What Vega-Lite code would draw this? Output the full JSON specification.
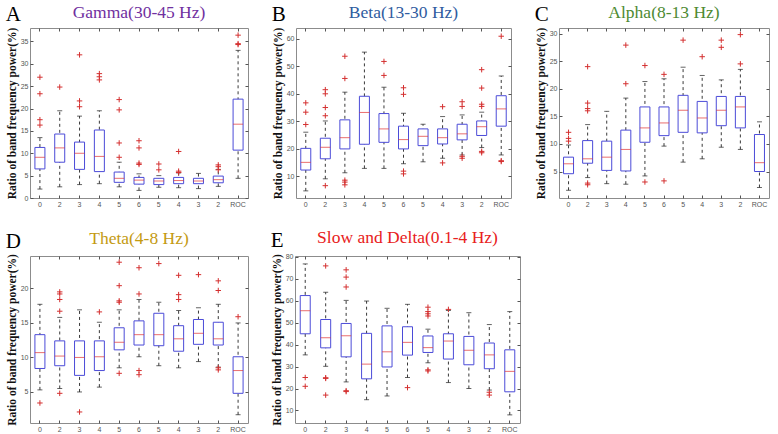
{
  "$schema": "https://vega.github.io/schema/vega-lite/v6.json",
  "padding": {"left": 5, "top": 3, "right": 0, "bottom": 0},
  "background": "white",
  "config": {
    "view": {"stroke": "#8c8c8c", "strokeWidth": 1},
    "axis": {
      "labelFont": "Liberation Sans", "labelFontSize": 7, "labelColor": "#555555",
      "tickColor": "#555555", "tickSize": -3, "labelPadding": 5,
      "domain": false, "grid": false,
      "titleFont": "Liberation Serif", "titleFontWeight": "bold", "titleFontSize": 11.5, "titleColor": "#111111", "titlePadding": 3
    },
    "title": {"font": "Liberation Serif", "fontWeight": "normal"}
  },
  "datasets": {
    "box": [
      {"p":"A","pos":0,"lo":2.0,"q1":6.5,"med":9.1,"q3":11.3,"hi":13.5},
      {"p":"A","pos":1,"lo":2.5,"q1":8.0,"med":11.2,"q3":14.3,"hi":19.5},
      {"p":"A","pos":2,"lo":3.0,"q1":6.4,"med":10.0,"q3":12.5,"hi":18.3},
      {"p":"A","pos":3,"lo":3.2,"q1":5.9,"med":9.3,"q3":15.2,"hi":19.5},
      {"p":"A","pos":4,"lo":2.5,"q1":3.5,"med":4.4,"q3":5.8,"hi":8.0},
      {"p":"A","pos":5,"lo":1.7,"q1":3.1,"med":4.0,"q3":4.6,"hi":5.4},
      {"p":"A","pos":6,"lo":2.4,"q1":3.0,"med":3.8,"q3":4.4,"hi":5.0},
      {"p":"A","pos":7,"lo":2.3,"q1":3.2,"med":3.9,"q3":4.6,"hi":5.6},
      {"p":"A","pos":8,"lo":2.1,"q1":3.2,"med":3.8,"q3":4.4,"hi":5.5},
      {"p":"A","pos":9,"lo":2.6,"q1":3.4,"med":4.1,"q3":4.9,"hi":6.4},
      {"p":"A","pos":10,"lo":4.4,"q1":10.7,"med":16.5,"q3":22.1,"hi":33.0},
      {"p":"B","pos":0,"lo":4.6,"q1":12.2,"med":15.0,"q3":20.1,"hi":26.0},
      {"p":"B","pos":1,"lo":9.0,"q1":16.3,"med":20.5,"q3":23.8,"hi":30.1},
      {"p":"B","pos":2,"lo":11.2,"q1":19.9,"med":24.0,"q3":30.5,"hi":40.6},
      {"p":"B","pos":3,"lo":12.8,"q1":21.6,"med":33.2,"q3":39.1,"hi":55.2},
      {"p":"B","pos":4,"lo":12.8,"q1":22.3,"med":27.2,"q3":32.8,"hi":42.4},
      {"p":"B","pos":5,"lo":14.5,"q1":19.9,"med":23.3,"q3":28.2,"hi":32.9},
      {"p":"B","pos":6,"lo":15.2,"q1":21.1,"med":24.5,"q3":27.2,"hi":28.9},
      {"p":"B","pos":7,"lo":16.5,"q1":21.7,"med":24.0,"q3":27.2,"hi":31.7},
      {"p":"B","pos":8,"lo":17.7,"q1":23.2,"med":25.4,"q3":28.9,"hi":32.3},
      {"p":"B","pos":9,"lo":20.4,"q1":24.8,"med":28.0,"q3":30.1,"hi":33.3},
      {"p":"B","pos":10,"lo":17.7,"q1":28.2,"med":34.5,"q3":39.3,"hi":46.5},
      {"p":"C","pos":0,"lo":1.6,"q1":4.6,"med":6.4,"q3":7.6,"hi":9.8},
      {"p":"C","pos":1,"lo":3.9,"q1":6.5,"med":7.3,"q3":10.6,"hi":13.5},
      {"p":"C","pos":2,"lo":2.8,"q1":5.2,"med":7.6,"q3":10.5,"hi":15.9},
      {"p":"C","pos":3,"lo":2.7,"q1":5.1,"med":9.0,"q3":12.5,"hi":18.3},
      {"p":"C","pos":4,"lo":4.2,"q1":10.3,"med":12.9,"q3":16.7,"hi":21.3},
      {"p":"C","pos":5,"lo":9.6,"q1":11.5,"med":13.8,"q3":16.7,"hi":21.8},
      {"p":"C","pos":6,"lo":6.7,"q1":12.1,"med":16.1,"q3":18.8,"hi":23.9},
      {"p":"C","pos":7,"lo":7.3,"q1":12.0,"med":14.7,"q3":17.7,"hi":22.4},
      {"p":"C","pos":8,"lo":9.4,"q1":13.3,"med":16.1,"q3":18.6,"hi":21.6},
      {"p":"C","pos":9,"lo":9.0,"q1":12.9,"med":16.7,"q3":18.6,"hi":23.5},
      {"p":"C","pos":10,"lo":2.1,"q1":5.0,"med":6.6,"q3":11.7,"hi":14.0},
      {"p":"D","pos":0,"lo":5.3,"q1":8.4,"med":10.7,"q3":13.3,"hi":17.7},
      {"p":"D","pos":1,"lo":5.5,"q1":8.8,"med":10.2,"q3":12.4,"hi":15.8},
      {"p":"D","pos":2,"lo":5.0,"q1":7.4,"med":10.0,"q3":12.4,"hi":16.9},
      {"p":"D","pos":3,"lo":5.7,"q1":8.1,"med":10.1,"q3":12.4,"hi":15.1},
      {"p":"D","pos":4,"lo":8.5,"q1":11.1,"med":12.2,"q3":14.3,"hi":16.9},
      {"p":"D","pos":5,"lo":10.1,"q1":11.8,"med":13.3,"q3":15.3,"hi":18.4},
      {"p":"D","pos":6,"lo":8.8,"q1":11.7,"med":13.3,"q3":16.4,"hi":18.0},
      {"p":"D","pos":7,"lo":8.5,"q1":10.9,"med":12.7,"q3":14.6,"hi":16.8},
      {"p":"D","pos":8,"lo":9.4,"q1":11.9,"med":13.5,"q3":15.5,"hi":17.2},
      {"p":"D","pos":9,"lo":8.6,"q1":11.8,"med":12.7,"q3":15.1,"hi":17.7},
      {"p":"D","pos":10,"lo":1.7,"q1":4.8,"med":8.1,"q3":10.1,"hi":15.0},
      {"p":"E","pos":0,"lo":35.3,"q1":44.9,"med":55.4,"q3":62.3,"hi":76.7},
      {"p":"E","pos":1,"lo":30.1,"q1":38.5,"med":43.1,"q3":51.4,"hi":63.8},
      {"p":"E","pos":2,"lo":23.0,"q1":34.4,"med":44.0,"q3":49.6,"hi":60.1},
      {"p":"E","pos":3,"lo":14.9,"q1":24.4,"med":31.1,"q3":45.1,"hi":59.8},
      {"p":"E","pos":4,"lo":16.6,"q1":29.8,"med":36.7,"q3":48.5,"hi":56.5},
      {"p":"E","pos":5,"lo":25.0,"q1":35.2,"med":41.0,"q3":48.1,"hi":58.3},
      {"p":"E","pos":6,"lo":31.7,"q1":36.4,"med":38.6,"q3":43.9,"hi":47.0},
      {"p":"E","pos":7,"lo":22.7,"q1":33.4,"med":41.6,"q3":44.9,"hi":55.5},
      {"p":"E","pos":8,"lo":20.0,"q1":30.8,"med":37.4,"q3":43.7,"hi":54.5},
      {"p":"E","pos":9,"lo":19.3,"q1":29.0,"med":35.3,"q3":40.7,"hi":49.1},
      {"p":"E","pos":10,"lo":8.0,"q1":18.5,"med":27.8,"q3":37.6,"hi":55.0}
    ],
    "out": [
      {"p":"A","pos":0,"v":27.0},{"p":"A","pos":0,"v":23.3},{"p":"A","pos":0,"v":17.5},{"p":"A","pos":0,"v":16.3},
      {"p":"A","pos":1,"v":24.8},
      {"p":"A","pos":2,"v":32.0},{"p":"A","pos":2,"v":21.7},{"p":"A","pos":2,"v":20.4},
      {"p":"A","pos":3,"v":27.8},{"p":"A","pos":3,"v":27.1},{"p":"A","pos":3,"v":26.4},
      {"p":"A","pos":4,"v":22.0},{"p":"A","pos":4,"v":19.7},{"p":"A","pos":4,"v":12.3},{"p":"A","pos":4,"v":9.1},
      {"p":"A","pos":5,"v":12.8},{"p":"A","pos":5,"v":11.2},{"p":"A","pos":5,"v":7.8},{"p":"A","pos":5,"v":7.5},
      {"p":"A","pos":6,"v":7.6},{"p":"A","pos":6,"v":6.3},
      {"p":"A","pos":7,"v":10.4},{"p":"A","pos":7,"v":6.0},{"p":"A","pos":7,"v":5.7},
      {"p":"A","pos":9,"v":7.4},{"p":"A","pos":9,"v":7.0},{"p":"A","pos":9,"v":6.3},
      {"p":"A","pos":10,"v":36.4},{"p":"A","pos":10,"v":34.5},{"p":"A","pos":10,"v":34.3},
      {"p":"B","pos":0,"v":36.7},{"p":"B","pos":0,"v":33.3},{"p":"B","pos":0,"v":28.8},
      {"p":"B","pos":1,"v":41.5},{"p":"B","pos":1,"v":40.0},{"p":"B","pos":1,"v":35.0},{"p":"B","pos":1,"v":32.0},{"p":"B","pos":1,"v":6.5},
      {"p":"B","pos":2,"v":53.7},{"p":"B","pos":2,"v":45.6},{"p":"B","pos":2,"v":8.5},{"p":"B","pos":2,"v":7.8},{"p":"B","pos":2,"v":6.8},
      {"p":"B","pos":4,"v":51.8},{"p":"B","pos":4,"v":46.7},
      {"p":"B","pos":5,"v":42.2},{"p":"B","pos":5,"v":39.8},{"p":"B","pos":5,"v":11.8},{"p":"B","pos":5,"v":10.8},
      {"p":"B","pos":7,"v":35.3},{"p":"B","pos":7,"v":14.8},
      {"p":"B","pos":8,"v":37.1},{"p":"B","pos":8,"v":35.4},{"p":"B","pos":8,"v":17.2},{"p":"B","pos":8,"v":16.5},
      {"p":"B","pos":9,"v":48.8},{"p":"B","pos":9,"v":42.1},{"p":"B","pos":9,"v":36.2},{"p":"B","pos":9,"v":35.4},{"p":"B","pos":9,"v":19.0},{"p":"B","pos":9,"v":18.5},
      {"p":"B","pos":10,"v":61.0},{"p":"B","pos":10,"v":15.6},{"p":"B","pos":10,"v":15.3},
      {"p":"C","pos":0,"v":12.1},{"p":"C","pos":0,"v":11.0},{"p":"C","pos":0,"v":10.5},
      {"p":"C","pos":1,"v":24.0},{"p":"C","pos":1,"v":17.4},{"p":"C","pos":1,"v":16.4},{"p":"C","pos":1,"v":16.0},{"p":"C","pos":1,"v":2.9},{"p":"C","pos":1,"v":2.6},
      {"p":"C","pos":3,"v":27.9},{"p":"C","pos":3,"v":20.9},
      {"p":"C","pos":4,"v":24.2},{"p":"C","pos":4,"v":3.1},
      {"p":"C","pos":5,"v":22.6},{"p":"C","pos":5,"v":3.3},
      {"p":"C","pos":6,"v":28.8},
      {"p":"C","pos":7,"v":25.8},
      {"p":"C","pos":8,"v":28.8},{"p":"C","pos":8,"v":27.5},
      {"p":"C","pos":9,"v":29.8},{"p":"C","pos":9,"v":24.5},
      {"p":"D","pos":0,"v":3.4},
      {"p":"D","pos":1,"v":19.5},{"p":"D","pos":1,"v":19.2},{"p":"D","pos":1,"v":18.4},{"p":"D","pos":1,"v":16.7},{"p":"D","pos":1,"v":4.8},
      {"p":"D","pos":2,"v":2.1},
      {"p":"D","pos":3,"v":16.6},
      {"p":"D","pos":4,"v":23.8},{"p":"D","pos":4,"v":20.4},{"p":"D","pos":4,"v":18.2},{"p":"D","pos":4,"v":18.0},{"p":"D","pos":4,"v":7.7},
      {"p":"D","pos":5,"v":23.0},{"p":"D","pos":5,"v":19.2},{"p":"D","pos":5,"v":8.1},{"p":"D","pos":5,"v":7.5},
      {"p":"D","pos":6,"v":23.6},
      {"p":"D","pos":7,"v":21.9},{"p":"D","pos":7,"v":19.1},{"p":"D","pos":7,"v":18.4},
      {"p":"D","pos":8,"v":22.0},
      {"p":"D","pos":9,"v":21.1},{"p":"D","pos":9,"v":19.7},{"p":"D","pos":9,"v":8.5},{"p":"D","pos":9,"v":8.2},
      {"p":"D","pos":10,"v":15.9},
      {"p":"E","pos":0,"v":25.0},{"p":"E","pos":0,"v":21.0},
      {"p":"E","pos":1,"v":75.8},{"p":"E","pos":1,"v":24.9},{"p":"E","pos":1,"v":24.6},{"p":"E","pos":1,"v":17.0},
      {"p":"E","pos":2,"v":74.0},{"p":"E","pos":2,"v":70.7},{"p":"E","pos":2,"v":66.2},{"p":"E","pos":2,"v":19.0},{"p":"E","pos":2,"v":18.6},
      {"p":"E","pos":5,"v":20.4},
      {"p":"E","pos":6,"v":57.0},{"p":"E","pos":6,"v":55.0},{"p":"E","pos":6,"v":54.0},{"p":"E","pos":6,"v":53.0},{"p":"E","pos":6,"v":28.5},{"p":"E","pos":6,"v":28.0},
      {"p":"E","pos":7,"v":56.0},
      {"p":"E","pos":9,"v":18.3},{"p":"E","pos":9,"v":17.0}
    ]
  },
  "spacing": 20,
  "vconcat": [
    {
      "spacing": 22,
      "hconcat": [
        {
          "title": {"text": "A", "anchor": "start", "frame": "bounds", "fontSize": 21, "color": "#000000", "dy": 22, "offset": 0},
          "vconcat": [{
            "title": {"text": "Gamma(30-45 Hz)", "color": "#7030a0", "fontSize": 17.5, "anchor": "middle", "offset": 6},
            "width": 218, "height": 170,
            "data": {"name": "box"},
            "transform": [{"filter": "datum.p == 'A'"}],
            "resolve": {"axis": {"x": "independent", "y": "independent"}},
            "layer": [
              {"mark": {"type": "rule", "color": "#222222", "strokeDash": [3, 3], "strokeWidth": 0.9},
               "encoding": {
                 "x": {"field": "pos", "type": "ordinal", "scale": {"paddingInner": 0.5, "paddingOuter": 0.25}, "axis": {"title": null, "labelAngle": 0, "labelExpr": "['0','2','3','4','5','6','5','4','3','2','ROC'][datum.value]"}},
                 "y": {"field": "lo", "type": "quantitative", "scale": {"domain": [0, 38], "nice": false, "zero": false}, "axis": {"title": "Ratio of band frequency power(%)", "values": [0,5,10,15,20,25,30,35]}},
                 "y2": {"field": "hi"}}},
              {"mark": {"type": "bar", "fill": "white", "stroke": "#4b4bd8", "strokeWidth": 1, "size": 10},
               "encoding": {
                 "x": {"field": "pos", "type": "ordinal", "axis": {"orient": "top", "labels": false, "title": null}},
                 "y": {"field": "q1", "type": "quantitative", "axis": {"orient": "right", "labels": false, "title": null, "values": [0,5,10,15,20,25,30,35]}},
                 "y2": {"field": "q3"}}},
              {"mark": {"type": "tick", "color": "#222222", "size": 5, "thickness": 1}, "encoding": {"x": {"field": "pos", "type": "ordinal", "axis": null}, "y": {"field": "lo", "type": "quantitative", "axis": null}}},
              {"mark": {"type": "tick", "color": "#222222", "size": 5, "thickness": 1}, "encoding": {"x": {"field": "pos", "type": "ordinal", "axis": null}, "y": {"field": "hi", "type": "quantitative", "axis": null}}},
              {"mark": {"type": "tick", "color": "#e03030", "size": 10, "thickness": 1}, "encoding": {"x": {"field": "pos", "type": "ordinal", "axis": null}, "y": {"field": "med", "type": "quantitative", "axis": null}}},
              {"data": {"name": "out"}, "transform": [{"filter": "datum.p == 'A'"}],
               "mark": {"type": "point", "shape": "M-1,0H1M0,-1V1", "filled": false, "stroke": "#d43030", "strokeWidth": 1, "size": 30, "opacity": 1},
               "encoding": {"x": {"field": "pos", "type": "ordinal", "axis": null}, "y": {"field": "v", "type": "quantitative", "axis": null}}}
            ]
          }]
        },
        {
          "title": {"text": "B", "anchor": "start", "frame": "bounds", "fontSize": 21, "color": "#000000", "dy": 22, "offset": 0},
          "vconcat": [{
            "title": {"text": "Beta(13-30 Hz)", "color": "#2f5ca0", "fontSize": 17.5, "anchor": "middle", "offset": 6},
            "width": 215, "height": 170,
            "data": {"name": "box"},
            "transform": [{"filter": "datum.p == 'B'"}],
            "resolve": {"axis": {"x": "independent", "y": "independent"}},
            "layer": [
              {"mark": {"type": "rule", "color": "#222222", "strokeDash": [3, 3], "strokeWidth": 0.9},
               "encoding": {
                 "x": {"field": "pos", "type": "ordinal", "scale": {"paddingInner": 0.5, "paddingOuter": 0.25}, "axis": {"title": null, "labelAngle": 0, "labelExpr": "['0','2','3','4','5','6','5','4','3','2','ROC'][datum.value]"}},
                 "y": {"field": "lo", "type": "quantitative", "scale": {"domain": [2, 64], "nice": false, "zero": false}, "axis": {"title": "Ratio of band frequency power(%)", "values": [10,20,30,40,50,60]}},
                 "y2": {"field": "hi"}}},
              {"mark": {"type": "bar", "fill": "white", "stroke": "#4b4bd8", "strokeWidth": 1, "size": 10},
               "encoding": {
                 "x": {"field": "pos", "type": "ordinal", "axis": {"orient": "top", "labels": false, "title": null}},
                 "y": {"field": "q1", "type": "quantitative", "axis": {"orient": "right", "labels": false, "title": null, "values": [10,20,30,40,50,60]}},
                 "y2": {"field": "q3"}}},
              {"mark": {"type": "tick", "color": "#222222", "size": 5, "thickness": 1}, "encoding": {"x": {"field": "pos", "type": "ordinal", "axis": null}, "y": {"field": "lo", "type": "quantitative", "axis": null}}},
              {"mark": {"type": "tick", "color": "#222222", "size": 5, "thickness": 1}, "encoding": {"x": {"field": "pos", "type": "ordinal", "axis": null}, "y": {"field": "hi", "type": "quantitative", "axis": null}}},
              {"mark": {"type": "tick", "color": "#e03030", "size": 10, "thickness": 1}, "encoding": {"x": {"field": "pos", "type": "ordinal", "axis": null}, "y": {"field": "med", "type": "quantitative", "axis": null}}},
              {"data": {"name": "out"}, "transform": [{"filter": "datum.p == 'B'"}],
               "mark": {"type": "point", "shape": "M-1,0H1M0,-1V1", "filled": false, "stroke": "#d43030", "strokeWidth": 1, "size": 30, "opacity": 1},
               "encoding": {"x": {"field": "pos", "type": "ordinal", "axis": null}, "y": {"field": "v", "type": "quantitative", "axis": null}}}
            ]
          }]
        },
        {
          "title": {"text": "C", "anchor": "start", "frame": "bounds", "fontSize": 21, "color": "#000000", "dy": 22, "offset": 0},
          "vconcat": [{
            "title": {"text": "Alpha(8-13 Hz)", "color": "#4e8a32", "fontSize": 17.5, "anchor": "middle", "offset": 6},
            "width": 210, "height": 170,
            "data": {"name": "box"},
            "transform": [{"filter": "datum.p == 'C'"}],
            "resolve": {"axis": {"x": "independent", "y": "independent"}},
            "layer": [
              {"mark": {"type": "rule", "color": "#222222", "strokeDash": [3, 3], "strokeWidth": 0.9},
               "encoding": {
                 "x": {"field": "pos", "type": "ordinal", "scale": {"paddingInner": 0.5, "paddingOuter": 0.25}, "axis": {"title": null, "labelAngle": 0, "labelExpr": "['0','2','3','4','5','6','5','4','3','2','ROC'][datum.value]"}},
                 "y": {"field": "lo", "type": "quantitative", "scale": {"domain": [0.2, 31], "nice": false, "zero": false}, "axis": {"title": "Ratio of band frequency power(%)", "values": [5,10,15,20,25,30]}},
                 "y2": {"field": "hi"}}},
              {"mark": {"type": "bar", "fill": "white", "stroke": "#4b4bd8", "strokeWidth": 1, "size": 10},
               "encoding": {
                 "x": {"field": "pos", "type": "ordinal", "axis": {"orient": "top", "labels": false, "title": null}},
                 "y": {"field": "q1", "type": "quantitative", "axis": {"orient": "right", "labels": false, "title": null, "values": [5,10,15,20,25,30]}},
                 "y2": {"field": "q3"}}},
              {"mark": {"type": "tick", "color": "#222222", "size": 5, "thickness": 1}, "encoding": {"x": {"field": "pos", "type": "ordinal", "axis": null}, "y": {"field": "lo", "type": "quantitative", "axis": null}}},
              {"mark": {"type": "tick", "color": "#222222", "size": 5, "thickness": 1}, "encoding": {"x": {"field": "pos", "type": "ordinal", "axis": null}, "y": {"field": "hi", "type": "quantitative", "axis": null}}},
              {"mark": {"type": "tick", "color": "#e03030", "size": 10, "thickness": 1}, "encoding": {"x": {"field": "pos", "type": "ordinal", "axis": null}, "y": {"field": "med", "type": "quantitative", "axis": null}}},
              {"data": {"name": "out"}, "transform": [{"filter": "datum.p == 'C'"}],
               "mark": {"type": "point", "shape": "M-1,0H1M0,-1V1", "filled": false, "stroke": "#d43030", "strokeWidth": 1, "size": 30, "opacity": 1},
               "encoding": {"x": {"field": "pos", "type": "ordinal", "axis": null}, "y": {"field": "v", "type": "quantitative", "axis": null}}}
            ]
          }]
        }
      ]
    },
    {
      "spacing": 21,
      "hconcat": [
        {
          "title": {"text": "D", "anchor": "start", "frame": "bounds", "fontSize": 21, "color": "#000000", "dy": 22, "offset": 0},
          "vconcat": [{
            "title": {"text": "Theta(4-8 Hz)", "color": "#c49a12", "fontSize": 17.5, "anchor": "middle", "offset": 6},
            "width": 218, "height": 167,
            "data": {"name": "box"},
            "transform": [{"filter": "datum.p == 'D'"}],
            "resolve": {"axis": {"x": "independent", "y": "independent"}},
            "layer": [
              {"mark": {"type": "rule", "color": "#222222", "strokeDash": [3, 3], "strokeWidth": 0.9},
               "encoding": {
                 "x": {"field": "pos", "type": "ordinal", "scale": {"paddingInner": 0.5, "paddingOuter": 0.25}, "axis": {"title": null, "labelAngle": 0, "labelExpr": "['0','2','3','4','5','6','5','4','3','2','ROC'][datum.value]"}},
                 "y": {"field": "lo", "type": "quantitative", "scale": {"domain": [0.5, 24.7], "nice": false, "zero": false}, "axis": {"title": "Ratio of band frequency power(%)", "values": [5,10,15,20]}},
                 "y2": {"field": "hi"}}},
              {"mark": {"type": "bar", "fill": "white", "stroke": "#4b4bd8", "strokeWidth": 1, "size": 10},
               "encoding": {
                 "x": {"field": "pos", "type": "ordinal", "axis": {"orient": "top", "labels": false, "title": null}},
                 "y": {"field": "q1", "type": "quantitative", "axis": {"orient": "right", "labels": false, "title": null, "values": [5,10,15,20]}},
                 "y2": {"field": "q3"}}},
              {"mark": {"type": "tick", "color": "#222222", "size": 5, "thickness": 1}, "encoding": {"x": {"field": "pos", "type": "ordinal", "axis": null}, "y": {"field": "lo", "type": "quantitative", "axis": null}}},
              {"mark": {"type": "tick", "color": "#222222", "size": 5, "thickness": 1}, "encoding": {"x": {"field": "pos", "type": "ordinal", "axis": null}, "y": {"field": "hi", "type": "quantitative", "axis": null}}},
              {"mark": {"type": "tick", "color": "#e03030", "size": 10, "thickness": 1}, "encoding": {"x": {"field": "pos", "type": "ordinal", "axis": null}, "y": {"field": "med", "type": "quantitative", "axis": null}}},
              {"data": {"name": "out"}, "transform": [{"filter": "datum.p == 'D'"}],
               "mark": {"type": "point", "shape": "M-1,0H1M0,-1V1", "filled": false, "stroke": "#d43030", "strokeWidth": 1, "size": 30, "opacity": 1},
               "encoding": {"x": {"field": "pos", "type": "ordinal", "axis": null}, "y": {"field": "v", "type": "quantitative", "axis": null}}}
            ]
          }]
        },
        {
          "title": {"text": "E", "anchor": "start", "frame": "bounds", "fontSize": 21, "color": "#000000", "dy": 22, "offset": 0},
          "vconcat": [{
            "title": {"text": "Slow and Delta(0.1-4 Hz)", "color": "#e82020", "fontSize": 17.5, "anchor": "middle", "offset": 6},
            "width": 225, "height": 167,
            "data": {"name": "box"},
            "transform": [{"filter": "datum.p == 'E'"}],
            "resolve": {"axis": {"x": "independent", "y": "independent"}},
            "layer": [
              {"mark": {"type": "rule", "color": "#222222", "strokeDash": [3, 3], "strokeWidth": 0.9},
               "encoding": {
                 "x": {"field": "pos", "type": "ordinal", "scale": {"paddingInner": 0.5, "paddingOuter": 0.25}, "axis": {"title": null, "labelAngle": 0, "labelExpr": "['0','2','3','4','5','6','5','4','3','2','ROC'][datum.value]"}},
                 "y": {"field": "lo", "type": "quantitative", "scale": {"domain": [4.3, 80.3], "nice": false, "zero": false}, "axis": {"title": "Ratio of band frequency power(%)", "values": [10,20,30,40,50,60,70,80]}},
                 "y2": {"field": "hi"}}},
              {"mark": {"type": "bar", "fill": "white", "stroke": "#4b4bd8", "strokeWidth": 1, "size": 10},
               "encoding": {
                 "x": {"field": "pos", "type": "ordinal", "axis": {"orient": "top", "labels": false, "title": null}},
                 "y": {"field": "q1", "type": "quantitative", "axis": {"orient": "right", "labels": false, "title": null, "values": [10,20,30,40,50,60,70,80]}},
                 "y2": {"field": "q3"}}},
              {"mark": {"type": "tick", "color": "#222222", "size": 5, "thickness": 1}, "encoding": {"x": {"field": "pos", "type": "ordinal", "axis": null}, "y": {"field": "lo", "type": "quantitative", "axis": null}}},
              {"mark": {"type": "tick", "color": "#222222", "size": 5, "thickness": 1}, "encoding": {"x": {"field": "pos", "type": "ordinal", "axis": null}, "y": {"field": "hi", "type": "quantitative", "axis": null}}},
              {"mark": {"type": "tick", "color": "#e03030", "size": 10, "thickness": 1}, "encoding": {"x": {"field": "pos", "type": "ordinal", "axis": null}, "y": {"field": "med", "type": "quantitative", "axis": null}}},
              {"data": {"name": "out"}, "transform": [{"filter": "datum.p == 'E'"}],
               "mark": {"type": "point", "shape": "M-1,0H1M0,-1V1", "filled": false, "stroke": "#d43030", "strokeWidth": 1, "size": 30, "opacity": 1},
               "encoding": {"x": {"field": "pos", "type": "ordinal", "axis": null}, "y": {"field": "v", "type": "quantitative", "axis": null}}}
            ]
          }]
        }
      ]
    }
  ]
}
